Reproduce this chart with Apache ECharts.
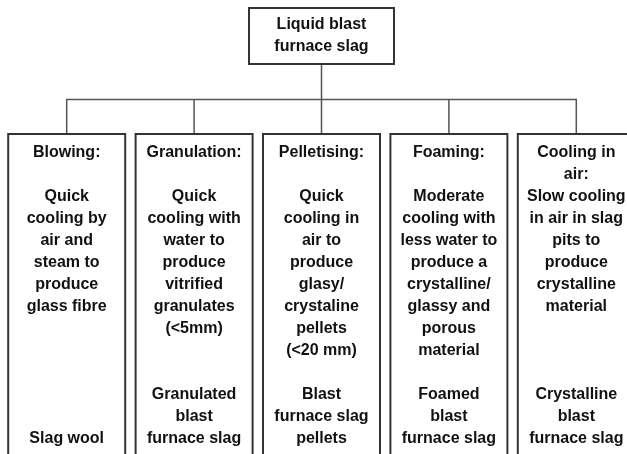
<!DOCTYPE html>
<html>
<head>
<meta charset="utf-8">
<script src="https://cdn.jsdelivr.net/npm/echarts@6/dist/echarts.min.js"></script>
<style>
  html, body { margin: 0; padding: 0; background: #fff; }
  #chart-container { width: 627px; height: 454px; }
</style>
</head>
<body>
<div id="chart-container"></div>
<script>
'use strict';

const rootName = 'Liquid blast\nfurnace slag';
const methods = ['Blowing:', 'Granulation:', 'Pelletising:', 'Foaming:', 'Cooling in\nair:'];
const processes = [
    ['Quick', 'cooling by', 'air and', 'steam to', 'produce', 'glass fibre'],
    ['Quick', 'cooling with', 'water to', 'produce', 'vitrified', 'granulates', '(<5mm)'],
    ['Quick', 'cooling in', 'air to', 'produce', 'glasy/', 'crystaline', 'pellets', '(<20 mm)'],
    ['Moderate', 'cooling with', 'less water to', 'produce a', 'crystalline/', 'glassy and', 'porous', 'material'],
    ['Slow cooling', 'in air in slag', 'pits to', 'produce', 'crystalline', 'material']
];
const products = [
    ['Slag wool'],
    ['Granulated', 'blast', 'furnace slag'],
    ['Blast', 'furnace slag', 'pellets'],
    ['Foamed', 'blast', 'furnace slag'],
    ['Crystalline', 'blast', 'furnace slag']
];

// every box holds 14 text lines: title (2), process, gap, product at the bottom
const totalLines = 14;

function boxText(i) {
    const title = methods[i].split('\n');
    while (title.length < 2) title.push('');
    const lines = title.concat(processes[i]);
    while (lines.length < totalLines - products[i].length) lines.push('');
    return lines.concat(products[i]).join('\n');
}

// the box outline is drawn by the label box, so the border keeps one width
// (a stretched rect symbol scales its stroke unevenly)
const boxStyle = {
    fontFamily: 'Liberation Sans',
    fontWeight: 'bold',
    fontSize: 16,
    lineHeight: 22,
    color: '#111',
    align: 'center',
    backgroundColor: '#fff',
    borderColor: '#333',
    borderWidth: 2
};

const treeData = {
    name: rootName,
    symbolSize: [143, 54],
    label: Object.assign({ position: 'inside', width: 143, padding: [5, 0, 5, 0] }, boxStyle),
    children: methods.map((m, i) => ({
        name: boxText(i),
        symbolSize: [115, 340],
        label: Object.assign({ position: 'insideTop', distance: 0, width: 115, padding: [7, 0, 30, 0] }, boxStyle)
    }))
};

const myChart = echarts.init(document.getElementById('chart-container'), null, { renderer: 'canvas' });

myChart.setOption({
    backgroundColor: '#fff',
    animation: false,
    series: [{
        type: 'tree',
        data: [treeData],
        orient: 'TB',
        layout: 'orthogonal',
        left: 3,
        top: 36,
        width: 637,
        height: 269,
        edgeShape: 'polyline',
        edgeForkPosition: '23.6%',
        symbol: 'rect',
        expandAndCollapse: false,
        initialTreeDepth: -1,
        roam: false,
        lineStyle: { color: '#555', width: 1.5 },
        itemStyle: { color: '#fff', borderWidth: 0 },
        emphasis: { disabled: true }
    }]
});
</script>
</body>
</html>
